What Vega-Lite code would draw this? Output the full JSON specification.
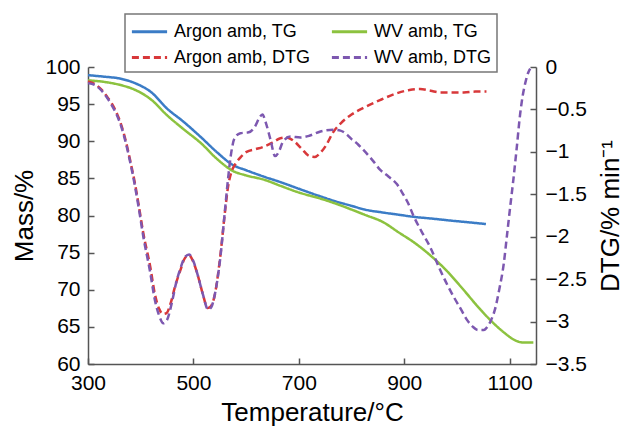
{
  "$schema": "https://vega.github.io/schema/vega-lite/v6.json",
  "autosize": {"type": "none"},
  "width": 448,
  "height": 297,
  "padding": {"left": 88, "top": 67, "right": 89, "bottom": 64},
  "background": "white",
  "config": {
    "view": {"stroke": null},
    "font": "Liberation Sans",
    "axis": {
      "grid": false,
      "labelFont": "Liberation Sans",
      "labelFontSize": 21,
      "labelColor": "#000",
      "titleFont": "Liberation Sans",
      "titleFontSize": 26,
      "titleFontWeight": "normal",
      "titleColor": "#000",
      "domainColor": "#555",
      "domainWidth": 1.5,
      "tickColor": "#555",
      "tickWidth": 1.5,
      "tickSize": -6
    },
    "legend": {
      "orient": "none",
      "legendX": 37,
      "legendY": -53,
      "columns": 2,
      "columnPadding": 14,
      "rowPadding": 4,
      "padding": 5,
      "strokeColor": "#777",
      "strokeWidth": 1.5,
      "fillColor": "white",
      "symbolType": "M-1.6,0H1.6",
      "symbolSize": 484,
      "symbolOffset": 7,
      "symbolStrokeWidth": 3,
      "labelFont": "Liberation Sans",
      "labelFontSize": 18,
      "labelColor": "#000",
      "labelOffset": 12,
      "labelLimit": 300
    }
  },
  "datasets": {
    "curves": [
      {"s": "Argon amb, TG", "t": 300, "v": 98.9},
      {"s": "Argon amb, TG", "t": 330, "v": 98.7},
      {"s": "Argon amb, TG", "t": 360, "v": 98.45},
      {"s": "Argon amb, TG", "t": 390, "v": 97.8},
      {"s": "Argon amb, TG", "t": 420, "v": 96.6},
      {"s": "Argon amb, TG", "t": 450, "v": 94.4},
      {"s": "Argon amb, TG", "t": 480, "v": 92.7},
      {"s": "Argon amb, TG", "t": 515, "v": 90.5},
      {"s": "Argon amb, TG", "t": 545, "v": 88.5},
      {"s": "Argon amb, TG", "t": 575, "v": 86.8},
      {"s": "Argon amb, TG", "t": 600, "v": 86.1},
      {"s": "Argon amb, TG", "t": 635, "v": 85.2},
      {"s": "Argon amb, TG", "t": 665, "v": 84.5},
      {"s": "Argon amb, TG", "t": 700, "v": 83.6},
      {"s": "Argon amb, TG", "t": 740, "v": 82.6},
      {"s": "Argon amb, TG", "t": 770, "v": 81.9},
      {"s": "Argon amb, TG", "t": 800, "v": 81.3},
      {"s": "Argon amb, TG", "t": 825, "v": 80.8},
      {"s": "Argon amb, TG", "t": 860, "v": 80.4},
      {"s": "Argon amb, TG", "t": 890, "v": 80.1},
      {"s": "Argon amb, TG", "t": 920, "v": 79.8},
      {"s": "Argon amb, TG", "t": 950, "v": 79.6},
      {"s": "Argon amb, TG", "t": 990, "v": 79.3},
      {"s": "Argon amb, TG", "t": 1020, "v": 79.1},
      {"s": "Argon amb, TG", "t": 1055, "v": 78.85},
      {"s": "WV amb, TG", "t": 300, "v": 98.2},
      {"s": "WV amb, TG", "t": 330, "v": 98.0},
      {"s": "WV amb, TG", "t": 360, "v": 97.6},
      {"s": "WV amb, TG", "t": 390, "v": 96.9},
      {"s": "WV amb, TG", "t": 420, "v": 95.6},
      {"s": "WV amb, TG", "t": 450, "v": 93.5},
      {"s": "WV amb, TG", "t": 480, "v": 91.7},
      {"s": "WV amb, TG", "t": 515, "v": 89.7},
      {"s": "WV amb, TG", "t": 545, "v": 87.6},
      {"s": "WV amb, TG", "t": 575, "v": 86.0},
      {"s": "WV amb, TG", "t": 600, "v": 85.4},
      {"s": "WV amb, TG", "t": 635, "v": 84.8},
      {"s": "WV amb, TG", "t": 665, "v": 84.0},
      {"s": "WV amb, TG", "t": 700, "v": 83.1},
      {"s": "WV amb, TG", "t": 740, "v": 82.3},
      {"s": "WV amb, TG", "t": 770, "v": 81.6},
      {"s": "WV amb, TG", "t": 800, "v": 80.8},
      {"s": "WV amb, TG", "t": 825, "v": 80.1},
      {"s": "WV amb, TG", "t": 860, "v": 79.1},
      {"s": "WV amb, TG", "t": 890, "v": 77.7},
      {"s": "WV amb, TG", "t": 920, "v": 76.3},
      {"s": "WV amb, TG", "t": 950, "v": 74.6},
      {"s": "WV amb, TG", "t": 980, "v": 72.6},
      {"s": "WV amb, TG", "t": 1010, "v": 70.2},
      {"s": "WV amb, TG", "t": 1040, "v": 67.7},
      {"s": "WV amb, TG", "t": 1065, "v": 65.8},
      {"s": "WV amb, TG", "t": 1090, "v": 64.2},
      {"s": "WV amb, TG", "t": 1110, "v": 63.2},
      {"s": "WV amb, TG", "t": 1125, "v": 62.9},
      {"s": "WV amb, TG", "t": 1145, "v": 62.9},
      {"s": "Argon amb, DTG", "t": 300, "v": -0.17},
      {"s": "Argon amb, DTG", "t": 315, "v": -0.21},
      {"s": "Argon amb, DTG", "t": 326, "v": -0.27},
      {"s": "Argon amb, DTG", "t": 335, "v": -0.34},
      {"s": "Argon amb, DTG", "t": 345, "v": -0.43},
      {"s": "Argon amb, DTG", "t": 355, "v": -0.55},
      {"s": "Argon amb, DTG", "t": 364, "v": -0.70},
      {"s": "Argon amb, DTG", "t": 372, "v": -0.88},
      {"s": "Argon amb, DTG", "t": 380, "v": -1.10},
      {"s": "Argon amb, DTG", "t": 389, "v": -1.37},
      {"s": "Argon amb, DTG", "t": 396, "v": -1.62},
      {"s": "Argon amb, DTG", "t": 405, "v": -1.96},
      {"s": "Argon amb, DTG", "t": 418, "v": -2.35},
      {"s": "Argon amb, DTG", "t": 427, "v": -2.68},
      {"s": "Argon amb, DTG", "t": 435, "v": -2.85},
      {"s": "Argon amb, DTG", "t": 442, "v": -2.91},
      {"s": "Argon amb, DTG", "t": 449, "v": -2.90},
      {"s": "Argon amb, DTG", "t": 457, "v": -2.78},
      {"s": "Argon amb, DTG", "t": 465, "v": -2.59},
      {"s": "Argon amb, DTG", "t": 475, "v": -2.40},
      {"s": "Argon amb, DTG", "t": 484, "v": -2.25},
      {"s": "Argon amb, DTG", "t": 492, "v": -2.22},
      {"s": "Argon amb, DTG", "t": 500, "v": -2.30},
      {"s": "Argon amb, DTG", "t": 509, "v": -2.47},
      {"s": "Argon amb, DTG", "t": 518, "v": -2.68},
      {"s": "Argon amb, DTG", "t": 527, "v": -2.84},
      {"s": "Argon amb, DTG", "t": 533, "v": -2.82},
      {"s": "Argon amb, DTG", "t": 540, "v": -2.70},
      {"s": "Argon amb, DTG", "t": 551, "v": -2.23},
      {"s": "Argon amb, DTG", "t": 560, "v": -1.70},
      {"s": "Argon amb, DTG", "t": 566, "v": -1.40},
      {"s": "Argon amb, DTG", "t": 572, "v": -1.24},
      {"s": "Argon amb, DTG", "t": 580, "v": -1.14},
      {"s": "Argon amb, DTG", "t": 590, "v": -1.06},
      {"s": "Argon amb, DTG", "t": 601, "v": -1.00},
      {"s": "Argon amb, DTG", "t": 617, "v": -0.97},
      {"s": "Argon amb, DTG", "t": 633, "v": -0.94},
      {"s": "Argon amb, DTG", "t": 650, "v": -0.89},
      {"s": "Argon amb, DTG", "t": 665, "v": -0.84},
      {"s": "Argon amb, DTG", "t": 677, "v": -0.83},
      {"s": "Argon amb, DTG", "t": 690, "v": -0.87},
      {"s": "Argon amb, DTG", "t": 705, "v": -0.96},
      {"s": "Argon amb, DTG", "t": 720, "v": -1.05},
      {"s": "Argon amb, DTG", "t": 730, "v": -1.06},
      {"s": "Argon amb, DTG", "t": 741, "v": -1.01},
      {"s": "Argon amb, DTG", "t": 752, "v": -0.92},
      {"s": "Argon amb, DTG", "t": 765, "v": -0.77},
      {"s": "Argon amb, DTG", "t": 780, "v": -0.66},
      {"s": "Argon amb, DTG", "t": 800, "v": -0.56},
      {"s": "Argon amb, DTG", "t": 823, "v": -0.48},
      {"s": "Argon amb, DTG", "t": 854, "v": -0.39},
      {"s": "Argon amb, DTG", "t": 886, "v": -0.31},
      {"s": "Argon amb, DTG", "t": 910, "v": -0.27},
      {"s": "Argon amb, DTG", "t": 930, "v": -0.26},
      {"s": "Argon amb, DTG", "t": 950, "v": -0.28},
      {"s": "Argon amb, DTG", "t": 968, "v": -0.30},
      {"s": "Argon amb, DTG", "t": 990, "v": -0.30},
      {"s": "Argon amb, DTG", "t": 1013, "v": -0.30},
      {"s": "Argon amb, DTG", "t": 1035, "v": -0.29},
      {"s": "Argon amb, DTG", "t": 1056, "v": -0.29},
      {"s": "WV amb, DTG", "t": 300, "v": -0.19},
      {"s": "WV amb, DTG", "t": 315, "v": -0.22},
      {"s": "WV amb, DTG", "t": 326, "v": -0.28},
      {"s": "WV amb, DTG", "t": 335, "v": -0.35},
      {"s": "WV amb, DTG", "t": 345, "v": -0.45},
      {"s": "WV amb, DTG", "t": 355, "v": -0.57},
      {"s": "WV amb, DTG", "t": 364, "v": -0.72},
      {"s": "WV amb, DTG", "t": 372, "v": -0.90},
      {"s": "WV amb, DTG", "t": 380, "v": -1.12},
      {"s": "WV amb, DTG", "t": 389, "v": -1.40},
      {"s": "WV amb, DTG", "t": 396, "v": -1.65},
      {"s": "WV amb, DTG", "t": 405, "v": -2.00},
      {"s": "WV amb, DTG", "t": 418, "v": -2.42},
      {"s": "WV amb, DTG", "t": 427, "v": -2.75},
      {"s": "WV amb, DTG", "t": 435, "v": -2.93},
      {"s": "WV amb, DTG", "t": 443, "v": -3.02},
      {"s": "WV amb, DTG", "t": 450, "v": -2.98},
      {"s": "WV amb, DTG", "t": 459, "v": -2.78},
      {"s": "WV amb, DTG", "t": 467, "v": -2.55},
      {"s": "WV amb, DTG", "t": 475, "v": -2.38},
      {"s": "WV amb, DTG", "t": 484, "v": -2.24},
      {"s": "WV amb, DTG", "t": 492, "v": -2.21},
      {"s": "WV amb, DTG", "t": 500, "v": -2.29},
      {"s": "WV amb, DTG", "t": 509, "v": -2.47},
      {"s": "WV amb, DTG", "t": 518, "v": -2.68},
      {"s": "WV amb, DTG", "t": 528, "v": -2.86},
      {"s": "WV amb, DTG", "t": 534, "v": -2.83},
      {"s": "WV amb, DTG", "t": 540, "v": -2.70},
      {"s": "WV amb, DTG", "t": 551, "v": -2.25},
      {"s": "WV amb, DTG", "t": 560, "v": -1.68},
      {"s": "WV amb, DTG", "t": 566, "v": -1.30},
      {"s": "WV amb, DTG", "t": 572, "v": -1.00},
      {"s": "WV amb, DTG", "t": 578, "v": -0.84},
      {"s": "WV amb, DTG", "t": 589, "v": -0.78},
      {"s": "WV amb, DTG", "t": 605, "v": -0.77},
      {"s": "WV amb, DTG", "t": 617, "v": -0.70},
      {"s": "WV amb, DTG", "t": 625, "v": -0.60},
      {"s": "WV amb, DTG", "t": 631, "v": -0.56},
      {"s": "WV amb, DTG", "t": 637, "v": -0.65},
      {"s": "WV amb, DTG", "t": 646, "v": -0.85},
      {"s": "WV amb, DTG", "t": 655, "v": -1.05},
      {"s": "WV amb, DTG", "t": 662, "v": -1.00},
      {"s": "WV amb, DTG", "t": 670, "v": -0.88},
      {"s": "WV amb, DTG", "t": 684, "v": -0.82},
      {"s": "WV amb, DTG", "t": 703, "v": -0.83},
      {"s": "WV amb, DTG", "t": 720, "v": -0.81},
      {"s": "WV amb, DTG", "t": 741, "v": -0.76},
      {"s": "WV amb, DTG", "t": 765, "v": -0.74},
      {"s": "WV amb, DTG", "t": 779, "v": -0.75},
      {"s": "WV amb, DTG", "t": 790, "v": -0.79},
      {"s": "WV amb, DTG", "t": 800, "v": -0.85},
      {"s": "WV amb, DTG", "t": 812, "v": -0.91},
      {"s": "WV amb, DTG", "t": 823, "v": -0.98},
      {"s": "WV amb, DTG", "t": 840, "v": -1.10},
      {"s": "WV amb, DTG", "t": 854, "v": -1.21},
      {"s": "WV amb, DTG", "t": 870, "v": -1.29},
      {"s": "WV amb, DTG", "t": 886, "v": -1.38},
      {"s": "WV amb, DTG", "t": 898, "v": -1.50},
      {"s": "WV amb, DTG", "t": 907, "v": -1.60},
      {"s": "WV amb, DTG", "t": 918, "v": -1.76},
      {"s": "WV amb, DTG", "t": 933, "v": -1.94},
      {"s": "WV amb, DTG", "t": 949, "v": -2.12},
      {"s": "WV amb, DTG", "t": 968, "v": -2.39},
      {"s": "WV amb, DTG", "t": 982, "v": -2.57},
      {"s": "WV amb, DTG", "t": 994, "v": -2.71},
      {"s": "WV amb, DTG", "t": 1008, "v": -2.86},
      {"s": "WV amb, DTG", "t": 1019, "v": -2.98},
      {"s": "WV amb, DTG", "t": 1030, "v": -3.06},
      {"s": "WV amb, DTG", "t": 1040, "v": -3.10},
      {"s": "WV amb, DTG", "t": 1051, "v": -3.10},
      {"s": "WV amb, DTG", "t": 1058, "v": -3.06},
      {"s": "WV amb, DTG", "t": 1065, "v": -2.98},
      {"s": "WV amb, DTG", "t": 1072, "v": -2.86},
      {"s": "WV amb, DTG", "t": 1080, "v": -2.63},
      {"s": "WV amb, DTG", "t": 1089, "v": -2.31},
      {"s": "WV amb, DTG", "t": 1095, "v": -1.98},
      {"s": "WV amb, DTG", "t": 1101, "v": -1.65},
      {"s": "WV amb, DTG", "t": 1107, "v": -1.33},
      {"s": "WV amb, DTG", "t": 1113, "v": -0.98},
      {"s": "WV amb, DTG", "t": 1120, "v": -0.55},
      {"s": "WV amb, DTG", "t": 1125, "v": -0.33},
      {"s": "WV amb, DTG", "t": 1130, "v": -0.18},
      {"s": "WV amb, DTG", "t": 1135, "v": -0.07},
      {"s": "WV amb, DTG", "t": 1139, "v": -0.02}
    ]
  },
  "data": {"name": "curves"},
  "encoding": {
    "x": {
      "field": "t",
      "type": "quantitative",
      "scale": {"domain": [300, 1150], "nice": false, "zero": false},
      "axis": {"title": "Temperature/°C", "values": [300, 500, 700, 900, 1100], "format": "d", "labelPadding": 14, "titlePadding": 6, "labelFlush": false}
    },
    "color": {
      "field": "s",
      "type": "nominal",
      "scale": {
        "domain": ["Argon amb, TG", "Argon amb, DTG", "WV amb, TG", "WV amb, DTG"],
        "range": ["#3b7cc6", "#d8383a", "#8cc23f", "#7d58b0"]
      },
      "title": null
    },
    "strokeDash": {
      "field": "s",
      "type": "nominal",
      "scale": {
        "domain": ["Argon amb, TG", "Argon amb, DTG", "WV amb, TG", "WV amb, DTG"],
        "range": [[1, 0], [7, 4], [1, 0], [7, 4]]
      },
      "title": null
    }
  },
  "layer": [
    {
      "transform": [{"filter": "indexof(datum.s, 'DTG') < 0"}],
      "mark": {"type": "line", "strokeWidth": 2.5, "interpolate": "monotone", "clip": false},
      "encoding": {
        "y": {
          "field": "v",
          "type": "quantitative",
          "scale": {"domain": [60, 100], "nice": false, "zero": false},
          "axis": {"title": "Mass/%", "orient": "left", "values": [60, 65, 70, 75, 80, 85, 90, 95, 100], "labelPadding": 14, "titleX": -64, "titleY": 148.5, "titleAlign": "center", "titleBaseline": "middle", "titleAngle": 270}
        }
      }
    },
    {
      "transform": [{"filter": "indexof(datum.s, 'DTG') >= 0"}],
      "mark": {"type": "line", "strokeWidth": 2.5, "interpolate": "monotone", "clip": false},
      "encoding": {
        "y": {
          "field": "v",
          "type": "quantitative",
          "scale": {"domain": [-3.5, 0], "nice": false, "zero": false},
          "axis": {"title": "DTG/% min⁻¹", "orient": "right", "values": [0, -0.5, -1, -1.5, -2, -2.5, -3, -3.5], "format": "~g", "labelPadding": 15, "titleX": 74, "titleY": 148.5, "titleAlign": "center", "titleBaseline": "middle", "titleAngle": 270}
        }
      }
    }
  ],
  "resolve": {"scale": {"y": "independent"}}
}
